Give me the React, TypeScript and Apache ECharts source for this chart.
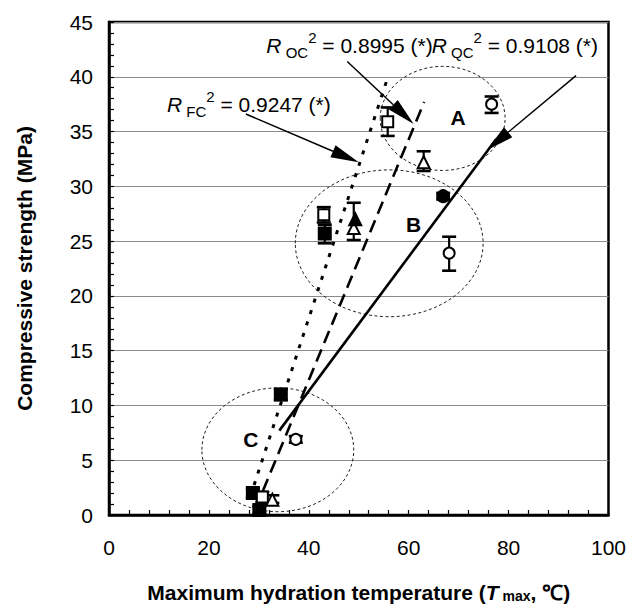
import React, { useEffect, useRef } from "react";
import * as echarts from "echarts";

const FONT = '"Liberation Sans", Arial, Helvetica, sans-serif';

// Tick settings
const X_MIN = 0, X_MAX = 100, X_STEP = 20;
const Y_MIN = 0, Y_MAX = 45, Y_STEP = 5;

// Data points [Tmax, strength]
const filledSquares = [[28.8, 2.0], [34.4, 11.0], [43.2, 25.7], [30.1, 0.45]];
const openSquares = [[30.7, 1.65], [43.0, 27.4], [55.8, 35.9]];
const openTriangles = [[32.7, 1.4], [49.0, 26.2], [63.0, 32.2]];
const filledTriangles = [[49.3, 27.0]];
const openCircles = [[37.4, 6.9], [68.1, 23.9], [76.6, 37.5]];
const filledCircles = [[66.9, 29.1]];

// Error bars [x, low, high]
const errorBars = [
  [28.8, 1.6, 2.4], [34.4, 10.5, 11.5], [43.2, 24.8, 26.5], [30.1, 0.1, 0.8],
  [30.7, 1.2, 2.1], [43.0, 26.7, 28.1], [55.8, 34.6, 37.2],
  [32.7, 1.1, 1.8], [49.0, 25.1, 28.5], [63.0, 31.4, 33.2],
  [37.4, 6.6, 7.2], [68.1, 22.3, 25.4], [76.6, 36.7, 38.2],
  [66.9, 28.8, 29.4],
];

// Regression lines (end points)
const fcLine = [[28.3, 1.7], [56.0, 40.2]];
const ocLine = [[30.8, 2.2], [63.1, 37.7]];
const qcLine = [[34.1, 7.7], [77.5, 34.3]];

// Group ellipses [cx, cy, rx, ry]
const groupEllipses = [[66.8, 36.2, 12.5, 4.75], [56.1, 24.8, 18.8, 6.7], [33.8, 5.95, 15.2, 5.65]];
const groupNames = ["A", "B", "C"];
const groupLabelPos = [[69.9, 36.3], [61.0, 26.5], [28.4, 6.9]];

// R² annotations
const r2Subs = ["FC", "OC", "QC"];
const r2Values = ["0.9247", "0.8995", "0.9108"];
const r2TextPos = [[11.6, 37.5], [31.5, 42.9], [64.6, 42.9]];
// arrows [x1, y1, x2, y2]
const r2Arrows = [[27.4, 36.6, 50.0, 32.2], [47.7, 41.4, 61.0, 35.7], [93.5, 40.1, 75.6, 33.3]];

export default function App() {
  const ref = useRef<HTMLDivElement>(null);
  useEffect(() => {
    document.body.style.margin = "0";
    if (!ref.current) return;
    const chart = echarts.init(ref.current, null, { renderer: "svg" });

    const markerSeries = (data: number[][], symbol: string, filled: boolean, size: number) => ({
      type: "scatter",
      data,
      symbol,
      symbolSize: size,
      z: 5,
      silent: true,
      itemStyle: {
        color: filled ? "#000" : "#fff",
        borderColor: "#000",
        borderWidth: 2,
        opacity: 1,
      },
    });

    const option: any = {
      animation: false,
      backgroundColor: "#fff",
      grid: {
        left: 109, right: 18, top: 22, bottom: 88,
        show: true, borderColor: "#000", borderWidth: 2.5, backgroundColor: "transparent",
      },
      xAxis: {
        type: "value", min: X_MIN, max: X_MAX, interval: X_STEP,
        name: "Maximum hydration temperature ({it|T}{sub| max}, \u2103)",
        nameLocation: "middle", nameGap: 67,
        nameTextStyle: {
          fontFamily: FONT, fontSize: 21, fontWeight: "bold", color: "#000",
          rich: {
            it: { fontFamily: FONT, fontSize: 21, fontWeight: "bold", fontStyle: "italic", color: "#000" },
            sub: { fontFamily: FONT, fontSize: 14, fontWeight: "bold", color: "#000", verticalAlign: "bottom", lineHeight: 14 },
          },
        },
        axisLine: { show: true, lineStyle: { color: "#000", width: 2.5 } },
        axisTick: { show: true, inside: true, length: 5, lineStyle: { color: "#000", width: 1.2 } },
        minorTick: { show: true, splitNumber: 5, length: 5, lineStyle: { color: "#000", width: 1.2 } },
        axisLabel: { fontFamily: FONT, fontSize: 21, color: "#000", margin: 22 },
        splitLine: { show: false },
      },
      yAxis: {
        type: "value", min: Y_MIN, max: Y_MAX, interval: Y_STEP,
        name: "Compressive strength (MPa)",
        nameLocation: "middle", nameGap: 74,
        nameTextStyle: { fontFamily: FONT, fontSize: 21, fontWeight: "bold", color: "#000" },
        axisLine: { show: true, lineStyle: { color: "#000", width: 2.5 } },
        axisTick: { show: true, inside: true, length: 5, lineStyle: { color: "#000", width: 1.2 } },
        minorTick: { show: true, splitNumber: 5, length: 5, lineStyle: { color: "#000", width: 1.2 } },
        axisLabel: { fontFamily: FONT, fontSize: 21, color: "#000", margin: 16 },
        splitLine: { show: true, lineStyle: { color: "#8a8a8a", width: 1.2 } },
      },
      series: [
        {
          type: "custom",
          silent: true,
          z: 2,
          clip: false,
          data: groupEllipses,
          encode: { x: 0, y: 1 },
          renderItem: (params: any, api: any) => {
            const c = api.coord([api.value(0), api.value(1)]);
            const s = api.size([api.value(2), api.value(3)]);
            return {
              type: "ellipse",
              shape: { cx: c[0], cy: c[1], rx: s[0], ry: s[1] },
              style: { fill: "none", stroke: "#222", lineWidth: 1, lineDash: [3, 2.5] },
            };
          },
        },
        {
          type: "line", data: fcLine, symbol: "none", silent: true, z: 3,
          lineStyle: { color: "#000", width: 3, type: [4, 8] },
        },
        {
          type: "line", data: ocLine, symbol: "none", silent: true, z: 3,
          lineStyle: { color: "#000", width: 2.6, type: [13, 7] },
        },
        {
          type: "line", data: qcLine, symbol: "none", silent: true, z: 3,
          lineStyle: { color: "#000", width: 2.6, type: "solid" },
        },
        {
          type: "custom",
          silent: true,
          z: 4,
          data: errorBars,
          encode: { x: 0, y: [1, 2] },
          renderItem: (params: any, api: any) => {
            const x = api.value(0);
            const lo = api.coord([x, api.value(1)]);
            const hi = api.coord([x, api.value(2)]);
            const hw = 7;
            const st = { stroke: "#000", lineWidth: 2.2 };
            return {
              type: "group",
              children: [
                { type: "line", shape: { x1: lo[0], y1: lo[1], x2: hi[0], y2: hi[1] }, style: st },
                { type: "line", shape: { x1: lo[0] - hw, y1: lo[1], x2: lo[0] + hw, y2: lo[1] }, style: { stroke: "#000", lineWidth: 2.6 } },
                { type: "line", shape: { x1: hi[0] - hw, y1: hi[1], x2: hi[0] + hw, y2: hi[1] }, style: { stroke: "#000", lineWidth: 2.6 } },
              ],
            };
          },
        },
        markerSeries(filledSquares, "rect", true, 12),
        markerSeries(openSquares, "rect", false, 11),
        markerSeries(openTriangles, "triangle", false, 12),
        markerSeries(filledTriangles, "triangle", true, 12),
        markerSeries(openCircles, "circle", false, 11),
        markerSeries(filledCircles, "circle", true, 12),
        {
          type: "custom",
          silent: true,
          z: 6,
          clip: false,
          data: r2Arrows,
          encode: { x: [0, 2], y: [1, 3] },
          renderItem: (params: any, api: any) => {
            const p1 = api.coord([api.value(0), api.value(1)]);
            const p2 = api.coord([api.value(2), api.value(3)]);
            const dx = p2[0] - p1[0], dy = p2[1] - p1[1];
            const len = Math.sqrt(dx * dx + dy * dy);
            const ux = dx / len, uy = dy / len;
            const L = 28, W = 6.5;
            const bx = p2[0] - ux * L, by = p2[1] - uy * L;
            return {
              type: "group",
              children: [
                { type: "line", shape: { x1: p1[0], y1: p1[1], x2: bx, y2: by }, style: { stroke: "#000", lineWidth: 1.5 } },
                {
                  type: "polygon",
                  shape: { points: [[p2[0], p2[1]], [bx - uy * W, by + ux * W], [bx + uy * W, by - ux * W]] },
                  style: { fill: "#000" },
                },
              ],
            };
          },
        },
        {
          type: "scatter",
          silent: true,
          z: 7,
          symbolSize: 0,
          itemStyle: { opacity: 1, color: "#000" },
          data: groupLabelPos.map((p, i) => ({ value: p, name: groupNames[i] })),
          label: {
            show: true, position: "inside", formatter: (p: any) => p.name, opacity: 1,
            fontFamily: FONT, fontSize: 21, fontWeight: "bold", color: "#000",
          },
        },
        {
          type: "scatter",
          silent: true,
          z: 7,
          symbolSize: 0,
          itemStyle: { opacity: 1, color: "#000" },
          data: r2TextPos.map((p, i) => ({ value: p, name: r2Subs[i], v: r2Values[i] })),
          label: {
            show: true, position: "right", distance: 0, opacity: 1, color: "#000",
            formatter: (p: any) => `{i|R}{sub| ${p.data.name}}{sup|2}{n| = ${p.data.v} (*)}`,
            rich: {
              i: { fontFamily: FONT, fontSize: 21, fontStyle: "italic", color: "#000", lineHeight: 30 },
              sub: { fontFamily: FONT, fontSize: 15, color: "#000", verticalAlign: "bottom", lineHeight: 15 },
              sup: { fontFamily: FONT, fontSize: 15, color: "#000", verticalAlign: "top", lineHeight: 20 },
              n: { fontFamily: FONT, fontSize: 21, color: "#000", lineHeight: 30 },
            },
          },
        },
      ],
    };
    chart.setOption(option);
    return () => chart.dispose();
  }, []);
  return <div ref={ref} style={{ width: 629, height: 608 }} />;
}
